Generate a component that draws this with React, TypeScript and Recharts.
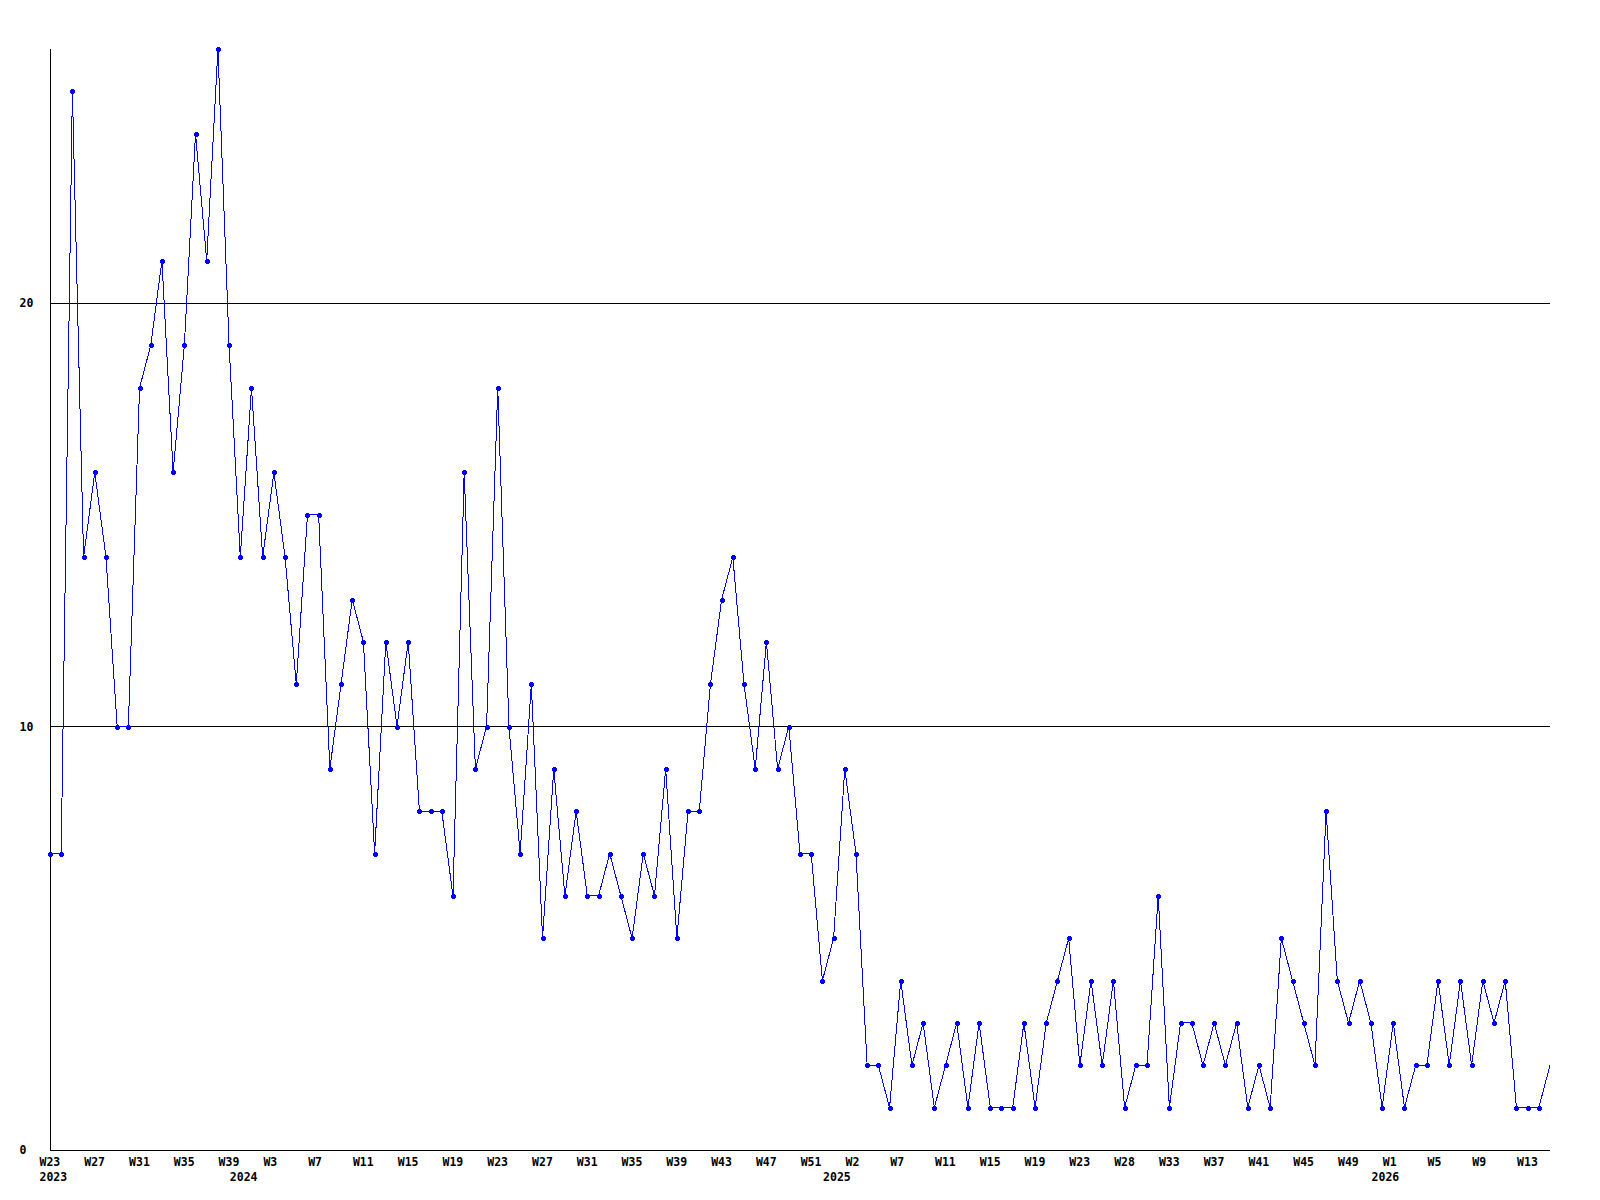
import React from 'react';
import { LineChart, Line, XAxis, YAxis, ReferenceLine } from 'recharts';

// One category per plotted point (year-week)
const categories: string[] = [
  '2023-W23','2023-W24','2023-W25','2023-W26','2023-W27','2023-W28','2023-W29','2023-W30','2023-W31','2023-W32',
  '2023-W33','2023-W34','2023-W35','2023-W36','2023-W37','2023-W38','2023-W39',
  '2024-W0','2024-W1','2024-W2','2024-W3','2024-W4','2024-W5','2024-W6','2024-W7','2024-W8','2024-W9',
  '2024-W10','2024-W11','2024-W12','2024-W13','2024-W14','2024-W15','2024-W16','2024-W17','2024-W18','2024-W19',
  '2024-W20','2024-W21','2024-W22','2024-W23','2024-W24','2024-W25','2024-W26','2024-W27','2024-W28','2024-W29',
  '2024-W30','2024-W31','2024-W32','2024-W33','2024-W34','2024-W35','2024-W36','2024-W37','2024-W38','2024-W39',
  '2024-W40','2024-W41','2024-W42','2024-W43','2024-W44','2024-W45','2024-W46','2024-W47','2024-W48','2024-W49',
  '2024-W50','2024-W51','2024-W52',
  '2025-W0','2025-W1','2025-W2','2025-W3','2025-W4','2025-W5','2025-W7','2025-W8','2025-W9','2025-W10',
  '2025-W11','2025-W12','2025-W13','2025-W14','2025-W15','2025-W16','2025-W17','2025-W18','2025-W19','2025-W20',
  '2025-W21','2025-W22','2025-W23','2025-W24','2025-W25','2025-W26','2025-W28','2025-W29','2025-W30','2025-W31',
  '2025-W33','2025-W34','2025-W35','2025-W36','2025-W37','2025-W38','2025-W39','2025-W40','2025-W41','2025-W42',
  '2025-W43','2025-W44','2025-W45','2025-W46','2025-W47','2025-W48','2025-W49','2025-W50','2025-W51',
  '2026-W0','2026-W1','2026-W2','2026-W3','2026-W4','2026-W5','2026-W6','2026-W7','2026-W8','2026-W9',
  '2026-W10','2026-W11','2026-W12','2026-W13','2026-W14','2026-W15',
];

const values: number[] = [
  // 2023
  7, 7, 25, 14, 16, 14, 10, 10, 18, 19, 21, 16, 19, 24, 21, 26, 19,
  // 2024
  14, 18, 14, 16, 14, 11, 15, 15, 9, 11, 13, 12, 7, 12, 10, 12, 8, 8, 8, 6,
  16, 9, 10, 18, 10, 7, 11, 5, 9, 6, 8, 6, 6, 7, 6, 5, 7, 6, 9, 5,
  8, 8, 11, 13, 14, 11, 9, 12, 9, 10, 7, 7, 4,
  // 2025
  5, 9, 7, 2, 2, 1, 4, 2, 3, 1, 2, 3, 1, 3, 1, 1, 1, 3, 1, 3,
  4, 5, 2, 4, 2, 4, 1, 2, 2, 6, 1, 3, 3, 2, 3, 2, 3, 1, 2, 1,
  5, 4, 3, 2, 8, 4, 3, 4, 3,
  // 2026
  1, 3, 1, 2, 2, 4, 2, 4, 2, 4, 3, 4, 1, 1, 1, 2,
];

const yTicks = [0, 10, 20];
const yMax = 26;
const weekLabelStep = 4;

const data = categories.map((c, i) => ({ i, cat: c, value: values[i] }));

const yearOf = (i: number) => (i >= 0 && i < categories.length ? categories[i].split('-')[0] : '');
const weekOf = (i: number) => categories[i].split('-')[1];

const xTicks = data
  .filter((d) => d.i % weekLabelStep === 0 || yearOf(d.i) !== yearOf(d.i - 1))
  .map((d) => d.i);

const FONT = '"DejaVu Sans Mono", "Liberation Mono", monospace';
const BLUE = '#0000ff';

const XTick = (props: any) => {
  const { x, y, payload } = props;
  const i = payload.value as number;
  const showWeek = i % weekLabelStep === 0;
  const showYear = yearOf(i) !== yearOf(i - 1);
  return (
    <g>
      {showWeek && (
        <text x={x - 10.5} y={y + 15.5} textAnchor="start" fontFamily={FONT} fontWeight="bold" fontSize={11.5} fill="#000">
          {weekOf(i)}
        </text>
      )}
      {showYear && (
        <text x={x - 10.5} y={y + 30.5} textAnchor="start" fontFamily={FONT} fontWeight="bold" fontSize={11.5} fill="#000">
          {yearOf(i)}
        </text>
      )}
    </g>
  );
};

const YTick = (props: any) => {
  const { x, y, payload } = props;
  return (
    <text x={x - 30.5} y={y + 4} textAnchor="start" fontFamily={FONT} fontWeight="bold" fontSize={11.5} fill="#000">
      {payload.value}
    </text>
  );
};

const Marker = (props: any) => {
  const { cx, cy, index } = props;
  if (index === values.length - 1 || cx == null || cy == null) return <g key={`m${index}`} />;
  const x = Math.round(cx);
  const y = Math.round(cy);
  return (
    <g key={`m${index}`} shapeRendering="crispEdges">
      <rect x={x - 2} y={y - 1} width={5} height={3} fill={BLUE} />
      <rect x={x - 1} y={y - 2} width={3} height={5} fill={BLUE} />
    </g>
  );
};

export default function App() {
  return (
    <div style={{ width: 1600, height: 1200, background: '#fff' }}>
      <LineChart
        width={1600}
        height={1200}
        data={data}
        margin={{ top: 41, right: 58, left: 0, bottom: 0 }}
      >
        <XAxis
          dataKey="i"
          type="number"
          domain={[0, values.length - 1]}
          ticks={xTicks}
          interval={0}
          height={58}
          tickLine={false}
          tickSize={0}
          tickMargin={0}
          axisLine={{ stroke: '#000', strokeWidth: 1, shapeRendering: 'crispEdges' }}
          tick={<XTick />}
          allowDecimals={false}
        />
        <YAxis
          type="number"
          domain={[0, yMax]}
          ticks={yTicks}
          interval={0}
          width={42}
          tickLine={false}
          tickSize={0}
          tickMargin={0}
          axisLine={{ stroke: '#000', strokeWidth: 1, shapeRendering: 'crispEdges' }}
          tick={<YTick />}
        />
        {yTicks.filter((t) => t > 0).map((t) => (
          <ReferenceLine key={t} y={t} stroke="#000" strokeWidth={1} shapeRendering="crispEdges" />
        ))}
        <Line
          type="linear"
          dataKey="value"
          stroke={BLUE}
          strokeWidth={1}
          dot={(p: any) => <Marker {...p} />}
          activeDot={false}
          isAnimationActive={false}
          shapeRendering="crispEdges"
        />
      </LineChart>
    </div>
  );
}
